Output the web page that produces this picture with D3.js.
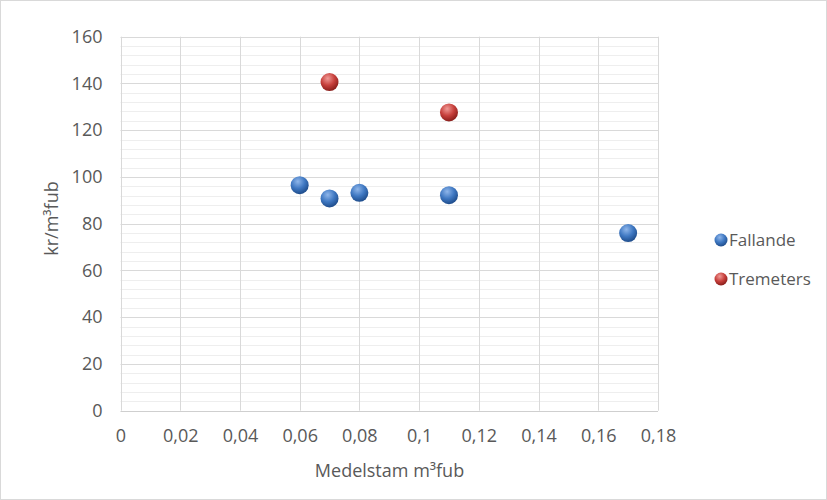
<!DOCTYPE html>
<html><head><meta charset="utf-8">
<script src="https://cdn.jsdelivr.net/npm/d3@7"></script>
<style>body{margin:0;background:#fff}svg{display:block}</style>
</head><body>
<script>
const seriesNames = ["Fallande", "Tremeters"];
const fallandeX = [0.06, 0.07, 0.08, 0.11, 0.17];
const fallandeY = [96.5, 90.8, 93.2, 92.2, 76];
const tremetersX = [0.07, 0.11];
const tremetersY = [140.6, 127.6];
const xTicks = [0, 0.02, 0.04, 0.06, 0.08, 0.1, 0.12, 0.14, 0.16, 0.18];
const yTicks = [0, 20, 40, 60, 80, 100, 120, 140, 160];
const xTitle = "Medelstam m³fub";
const yTitle = "kr/m³fub";

const W = 827, H = 500;
const font = "'Open Sans', 'Liberation Sans', sans-serif";
const svg = d3.select("body").append("svg").attr("width", W).attr("height", H);
svg.append("rect").attr("x",0.5).attr("y",0.5).attr("width",W-1).attr("height",H-1)
  .attr("fill","#fff").attr("stroke","#d9d9d9");

const x = d3.scaleLinear().domain([0, 0.18]).range([120.5, 658]);
const y = d3.scaleLinear().domain([0, 160]).range([410.7, 36.7]);

const defs = svg.append("defs");
function grad(id, light, mid, dark){
  const g = defs.append("radialGradient").attr("id", id).attr("cx","40%").attr("cy","30%").attr("r","70%");
  g.append("stop").attr("offset","0%").attr("stop-color", light);
  g.append("stop").attr("offset","55%").attr("stop-color", mid);
  g.append("stop").attr("offset","100%").attr("stop-color", dark);
}
grad("gBlue", "#8fb6ea", "#3f78c2", "#1f4d8c");
grad("gRed", "#f09a96", "#c7403c", "#8a1e1b");

// minor horizontal gridlines
const minor = d3.range(0, 161, 4).filter(v => v % 20 !== 0);
svg.append("g").selectAll("line").data(minor).join("line")
  .attr("x1", x(0)).attr("x2", x(0.18)).attr("y1", d => Math.round(y(d))+0.5).attr("y2", d => Math.round(y(d))+0.5)
  .attr("stroke", "#eeeeee");
// major gridlines
svg.append("g").selectAll("line").data(yTicks).join("line")
  .attr("x1", x(0)).attr("x2", x(0.18)).attr("y1", d => Math.round(y(d))+0.5).attr("y2", d => Math.round(y(d))+0.5)
  .attr("stroke", d => d === 0 ? "#cfcfcf" : "#d9d9d9");
svg.append("g").selectAll("line").data(xTicks).join("line")
  .attr("x1", d => Math.round(x(d))+0.5).attr("x2", d => Math.round(x(d))+0.5).attr("y1", y(0)).attr("y2", y(160))
  .attr("stroke", "#d9d9d9");

// axes (labels only) via d3 axes
const xAxis = d3.axisBottom(x).tickValues(xTicks).tickSize(0).tickPadding(19)
  .tickFormat(d => String(+d.toFixed(2)).replace(".", ","));
const gx = svg.append("g").attr("transform", `translate(0,${y(0)})`).call(xAxis);
gx.select(".domain").remove();
gx.selectAll("text").attr("font-family", font).attr("font-size", 18).attr("fill", "#595959");

const yAxis = d3.axisLeft(y).tickValues(yTicks).tickSize(0).tickPadding(18);
const gy = svg.append("g").attr("transform", `translate(${x(0)},0)`).call(yAxis);
gy.select(".domain").remove();
gy.selectAll("text").attr("font-family", font).attr("font-size", 18).attr("fill", "#595959");

svg.append("text").attr("x", 389.5).attr("y", 477).attr("text-anchor","middle")
  .attr("font-family", font).attr("font-size", 18).attr("fill","#595959").text(xTitle);
svg.append("text").attr("transform", `translate(58,218.5) rotate(-90)`).attr("text-anchor","middle")
  .attr("font-family", font).attr("font-size", 18).attr("fill","#595959").text(yTitle);

const series = [
  {name: seriesNames[0], xs: fallandeX, ys: fallandeY, fill: "url(#gBlue)"},
  {name: seriesNames[1], xs: tremetersX, ys: tremetersY, fill: "url(#gRed)"}
];
series.forEach(s => {
  svg.append("g").selectAll("circle").data(s.xs.map((v,i)=>[v, s.ys[i]])).join("circle")
    .attr("cx", d => x(d[0])).attr("cy", d => y(d[1])).attr("r", 9)
    .attr("fill", s.fill);
});

// legend
const lg = svg.append("g");
series.forEach((s, i) => {
  const ly = 240 + i * 39;
  lg.append("circle").attr("cx", 721).attr("cy", ly).attr("r", 6.5).attr("fill", s.fill);
  lg.append("text").attr("x", 729).attr("y", ly + 6).attr("font-family", font).attr("font-size", 17)
    .attr("fill", "#595959").text(s.name);
});
</script>
</body></html>
